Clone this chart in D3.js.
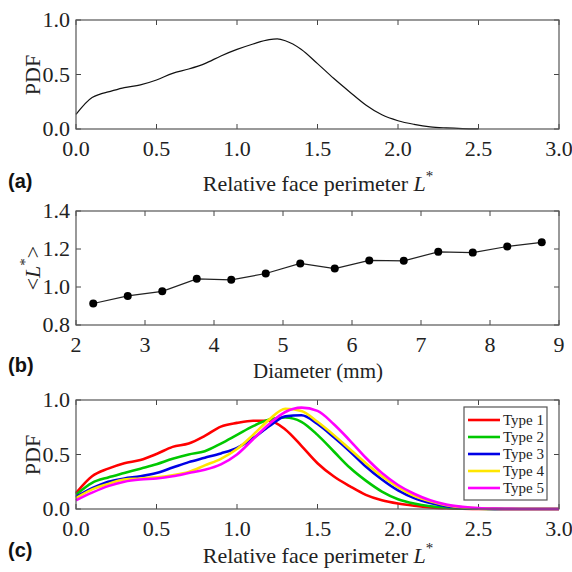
<!DOCTYPE html>
<html>
<head>
<meta charset="utf-8">
<script src="https://cdn.jsdelivr.net/npm/d3@7"></script>
<style>
  html, body { margin: 0; padding: 0; background: #fff; }
  svg { display: block; }
</style>
</head>
<body>
<svg id="chart" width="572" height="572"></svg>
<script>
// ---- data ----
// (a) overall PDF of relative face perimeter
const lGridA = [0,0.1,0.15,0.2,0.3,0.4,0.5,0.6,0.7,0.8,0.9,1.0,1.1,1.2,1.25,1.3,1.4,1.5,1.6,1.7,1.8,1.9,2.0,2.1,2.2,2.3,2.4,2.5];
const pdfAll = [0.135,0.29,0.32,0.34,0.38,0.405,0.45,0.51,0.55,0.60,0.67,0.73,0.78,0.82,0.826,0.81,0.73,0.60,0.465,0.34,0.22,0.13,0.076,0.043,0.02,0.01,0.004,0.001];

// (b) mean relative perimeter vs diameter
const diameters = [2.25,2.75,3.25,3.75,4.25,4.75,5.25,5.75,6.25,6.75,7.25,7.75,8.25,8.75];
const meanL = [0.913,0.953,0.977,1.043,1.038,1.071,1.124,1.097,1.14,1.138,1.185,1.181,1.213,1.235];

// (c) PDF by type
const lGridC = [0,0.1,0.2,0.3,0.4,0.5,0.6,0.7,0.8,0.9,1.0,1.1,1.2,1.3,1.4,1.5,1.6,1.7,1.8,1.9,2.0,2.1,2.2,2.3,2.4,2.5,2.6,2.7,2.8,2.9,3.0];
const typeNames = ["Type 1","Type 2","Type 3","Type 4","Type 5"];
const typeColors = ["#ff0000","#00c800","#0000e6","#ffe600","#ff00ff"];
const pdfType1 = [0.146,0.30,0.37,0.42,0.45,0.505,0.57,0.60,0.67,0.756,0.79,0.81,0.81,0.73,0.58,0.42,0.30,0.21,0.13,0.08,0.05,0.03,0.015,0.007,0.003,0.001,0,0,0,0,0];
const pdfType2 = [0.13,0.24,0.29,0.33,0.37,0.41,0.46,0.50,0.53,0.60,0.68,0.76,0.82,0.84,0.80,0.68,0.53,0.38,0.26,0.16,0.09,0.05,0.025,0.012,0.005,0.002,0.001,0,0,0,0];
const pdfType3 = [0.11,0.19,0.25,0.28,0.30,0.33,0.38,0.43,0.47,0.51,0.56,0.65,0.76,0.85,0.86,0.78,0.66,0.53,0.39,0.27,0.17,0.10,0.055,0.025,0.01,0.004,0.001,0,0,0,0];
const pdfType4 = [0.10,0.18,0.23,0.27,0.28,0.29,0.31,0.34,0.40,0.46,0.55,0.68,0.82,0.92,0.90,0.80,0.68,0.55,0.42,0.30,0.20,0.12,0.07,0.035,0.015,0.006,0.002,0,0,0,0];
const pdfType5 = [0.08,0.15,0.21,0.25,0.27,0.28,0.30,0.33,0.36,0.41,0.50,0.64,0.78,0.89,0.93,0.90,0.78,0.63,0.47,0.33,0.22,0.14,0.08,0.04,0.02,0.008,0.003,0.001,0,0,0];
const typeSeries = [pdfType1,pdfType2,pdfType3,pdfType4,pdfType5];

// tick labels
const ticksL = [0,0.5,1.0,1.5,2.0,2.5,3.0];
const ticksPdf = [0,0.5,1.0];
const ticksD = [2,3,4,5,6,7,8,9];
const ticksMean = [0.8,1.0,1.2,1.4];

// ---- drawing ----
const svg = d3.select("#chart");
const serif = "'Liberation Serif', 'Times New Roman', serif";
const sans = "'Liberation Sans', Arial, sans-serif";
const left = 76, right = 559;
const fs = 22;

function frame(x, y, xt, yt, xfmt, yfmt) {
  const g = svg.append("g");
  const [x0, x1] = x.range(), [y0, y1] = y.range();
  const tl = 5;
  // tick labels
  g.selectAll(".xl").data(xt).join("text")
    .attr("x", d => x(d)).attr("y", y0 + 27)
    .attr("text-anchor", "middle").attr("font-family", serif).attr("font-size", fs).attr("fill", "#222")
    .text(xfmt);
  g.selectAll(".yl").data(yt).join("text")
    .attr("x", x0 - 6).attr("y", d => y(d) + 7)
    .attr("text-anchor", "end").attr("font-family", serif).attr("font-size", fs).attr("fill", "#222")
    .text(yfmt);
  // inward ticks on all four sides
  const tk = g.append("g").attr("stroke", "#444").attr("stroke-width", 1);
  xt.forEach(d => {
    tk.append("line").attr("x1", x(d)).attr("x2", x(d)).attr("y1", y0).attr("y2", y0 - tl);
    tk.append("line").attr("x1", x(d)).attr("x2", x(d)).attr("y1", y1).attr("y2", y1 + tl);
  });
  yt.forEach(d => {
    tk.append("line").attr("x1", x0).attr("x2", x0 + tl).attr("y1", y(d)).attr("y2", y(d));
    tk.append("line").attr("x1", x1).attr("x2", x1 - tl).attr("y1", y(d)).attr("y2", y(d));
  });
  return g;
}
function box(x, y) {
  const [x0, x1] = x.range(), [y0, y1] = y.range();
  svg.append("rect").attr("x", x0).attr("y", y1).attr("width", x1 - x0).attr("height", y0 - y1)
    .attr("fill", "none").attr("stroke", "#555").attr("stroke-width", 1.2);
}
function yTitle(cy, parts) {
  const t = svg.append("text").attr("transform", `translate(40,${cy}) rotate(-90)`)
    .attr("text-anchor", "middle").attr("font-family", serif).attr("font-size", fs).attr("fill", "#222");
  parts(t);
}
function xTitleL(cy) {
  const t = svg.append("text").attr("x", 318).attr("y", cy)
    .attr("text-anchor", "middle").attr("font-family", serif).attr("font-size", fs).attr("fill", "#222");
  t.append("tspan").text("Relative face perimeter ");
  t.append("tspan").attr("font-style", "italic").text("L");
  t.append("tspan").attr("dy", -10).attr("font-size", 15).text("*");
}
function panelLabel(txt, y) {
  svg.append("text").attr("x", 8).attr("y", y).attr("font-family", sans).attr("font-weight", "bold")
    .attr("font-size", 20).attr("fill", "#111").text(txt);
}
const f1 = d3.format(".1f");

// Panel (a)
{
  const x = d3.scaleLinear().domain([0, 3]).range([left, right]);
  const y = d3.scaleLinear().domain([0, 1]).range([129, 20]);
  frame(x, y, ticksL, ticksPdf, f1, f1);
  const line = d3.line().x((d, i) => x(lGridA[i])).y(d => y(d)).curve(d3.curveMonotoneX);
  svg.append("path").datum(pdfAll).attr("d", line).attr("fill", "none").attr("stroke", "#111").attr("stroke-width", 1.2);
  box(x, y);
  yTitle(75, t => t.text("PDF"));
  xTitleL(191);
  panelLabel("(a)", 188);
}

// Panel (b)
{
  const x = d3.scaleLinear().domain([2, 9]).range([left, right]);
  const y = d3.scaleLinear().domain([0.8, 1.4]).range([325, 211]);
  frame(x, y, ticksD, ticksMean, d3.format("d"), f1);
  const line = d3.line().x((d, i) => x(diameters[i])).y(d => y(d));
  svg.append("path").datum(meanL).attr("d", line).attr("fill", "none").attr("stroke", "#222").attr("stroke-width", 1.2);
  svg.selectAll(".pt").data(meanL).join("circle")
    .attr("cx", (d, i) => x(diameters[i])).attr("cy", d => y(d)).attr("r", 4).attr("fill", "#000");
  box(x, y);
  yTitle(268, t => {
    t.append("tspan").text("<");
    t.append("tspan").attr("font-style", "italic").text("L");
    t.append("tspan").attr("dy", -10).attr("font-size", 15).text("*");
    t.append("tspan").attr("dy", 10).text(">");
  });
  svg.append("text").attr("x", 318).attr("y", 378).attr("text-anchor", "middle")
    .attr("font-family", serif).attr("font-size", 21).attr("fill", "#222").text("Diameter (mm)");
  panelLabel("(b)", 372);
}

// Panel (c)
{
  const x = d3.scaleLinear().domain([0, 3]).range([left, right]);
  const y = d3.scaleLinear().domain([0, 1]).range([509, 400]);
  frame(x, y, ticksL, ticksPdf, f1, f1);
  const line = d3.line().x((d, i) => x(lGridC[i])).y(d => y(d)).curve(d3.curveMonotoneX);
  typeSeries.forEach((s, k) => {
    svg.append("path").datum(s).attr("d", line).attr("fill", "none")
      .attr("stroke", typeColors[k]).attr("stroke-width", 2.6);
  });
  box(x, y);
  // legend
  const lg = svg.append("g");
  lg.append("rect").attr("x", 464).attr("y", 407).attr("width", 83).attr("height", 93)
    .attr("fill", "#fff").attr("stroke", "#555").attr("stroke-width", 1.2);
  typeNames.forEach((n, k) => {
    const ly = 420 + k * 17;
    lg.append("line").attr("x1", 468).attr("x2", 500).attr("y1", ly).attr("y2", ly)
      .attr("stroke", typeColors[k]).attr("stroke-width", 2.6);
    lg.append("text").attr("x", 503).attr("y", ly + 5).attr("font-family", serif).attr("font-size", 15)
      .attr("fill", "#222").text(n);
  });
  yTitle(455, t => t.text("PDF"));
  xTitleL(563);
  panelLabel("(c)", 557);
}
</script>
</body>
</html>
